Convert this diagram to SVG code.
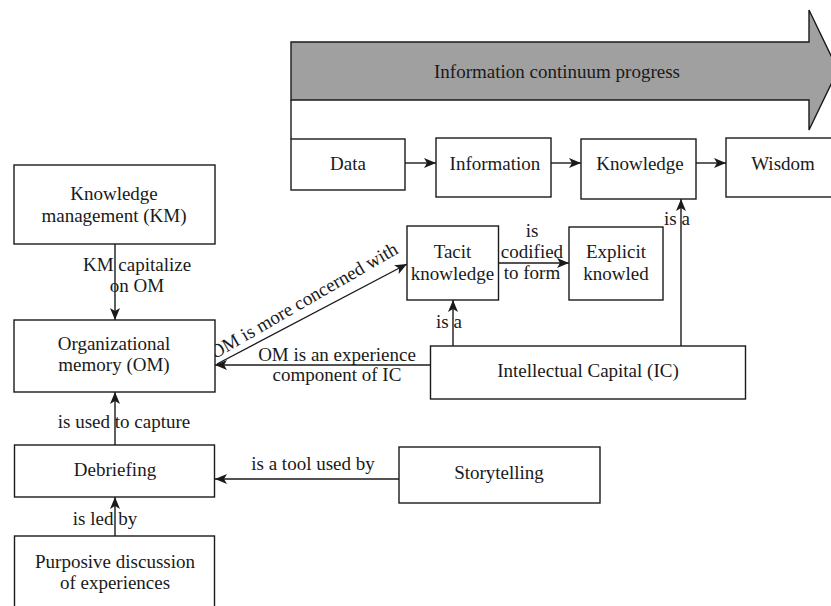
<svg xmlns="http://www.w3.org/2000/svg" width="831" height="606" viewBox="0 0 831 606">
<style>
.box{fill:#fff;stroke:#1a1a1a;stroke-width:1.4}
.t{font-family:'Liberation Serif','Times New Roman',Tinos,'DejaVu Serif',serif;font-size:19px;fill:#1a1a1a;text-anchor:middle}
.c{stroke:#1a1a1a;stroke-width:1.4;fill:none}
.a{marker-end:url(#ah)}
</style>
<defs>
<marker id="ah" viewBox="0 0 12 10" refX="12" refY="5" markerWidth="12" markerHeight="10" orient="auto" markerUnits="userSpaceOnUse">
<path d="M0,0 L12,5 L0,10 L3,5 z" fill="#1a1a1a"/>
</marker>
</defs>
<rect width="831" height="606" fill="#fff"/>
<g id="progress">
<polygon points="291,42 809,42 809,10 838,70 809,130 809,100 291,100" fill="#a0a0a0" stroke="#1a1a1a" stroke-width="1.4"/>
<text class="t" x="557" y="78">Information continuum progress</text>
</g>
<g id="connectors">
<line class="c" x1="291" y1="100" x2="291" y2="139"/>
<line class="c a" x1="405" y1="163" x2="436" y2="163"/>
<line class="c a" x1="551" y1="163" x2="581" y2="163"/>
<line class="c a" x1="696" y1="163" x2="726" y2="163"/>
<line class="c a" x1="115" y1="244" x2="115" y2="320"/>
<line class="c a" x1="217" y1="364" x2="407" y2="264"/>
<line class="c a" x1="498.5" y1="263" x2="569" y2="263"/>
<line class="c a" x1="681" y1="346" x2="681" y2="199"/>
<line class="c a" x1="453" y1="346" x2="453" y2="300"/>
<line class="c a" x1="430.5" y1="365" x2="215" y2="365"/>
<line class="c a" x1="115" y1="445" x2="115" y2="392"/>
<line class="c a" x1="399" y1="479" x2="215" y2="479"/>
<line class="c a" x1="115" y1="536" x2="115" y2="497"/>
<text class="t" x="137" y="271">KM capitalize</text>
<text class="t" x="137" y="292">on OM</text>
<text class="t" transform="translate(307,306) rotate(-30)">OM is more concerned with</text>
<text class="t" x="532" y="237">is</text>
<text class="t" x="532" y="258">codified</text>
<text class="t" x="532" y="279">to form</text>
<text class="t" x="677" y="225">is a</text>
<text class="t" x="449" y="328">is a</text>
<text class="t" x="337" y="361">OM is an experience</text>
<text class="t" x="337" y="381">component of IC</text>
<text class="t" x="124" y="428">is used to capture</text>
<text class="t" x="313" y="470">is a tool used by</text>
<text class="t" x="105" y="525">is led by</text>
</g>
<g id="data"><rect class="box" x="291" y="139" width="114" height="51"/><text class="t" x="348" y="170">Data</text></g>
<g id="information"><rect class="box" x="436" y="138" width="115" height="59"/><text class="t" x="495" y="170">Information</text></g>
<g id="knowledge"><rect class="box" x="581" y="139" width="115" height="60"/><text class="t" x="640" y="170">Knowledge</text></g>
<g id="wisdom"><rect class="box" x="726" y="138" width="112" height="59"/><text class="t" x="783" y="170">Wisdom</text></g>
<g id="km"><rect class="box" x="14" y="165" width="201" height="79"/><text class="t" x="114" y="200">Knowledge</text><text class="t" x="114" y="222">management (KM)</text></g>
<g id="om"><rect class="box" x="14" y="320" width="201" height="72"/><text class="t" x="114" y="350">Organizational</text><text class="t" x="114" y="371">memory (OM)</text></g>
<g id="tacit"><rect class="box" x="407" y="226" width="91.5" height="74"/><text class="t" x="452.5" y="258">Tacit</text><text class="t" x="452.5" y="280">knowledge</text></g>
<g id="explicit"><rect class="box" x="569" y="227" width="94" height="73"/><text class="t" x="616" y="258">Explicit</text><text class="t" x="616" y="280">knowled</text></g>
<g id="ic"><rect class="box" x="430.5" y="346" width="315" height="53"/><text class="t" x="588" y="377">Intellectual Capital (IC)</text></g>
<g id="debriefing"><rect class="box" x="14.5" y="445" width="200" height="52"/><text class="t" x="115" y="476">Debriefing</text></g>
<g id="storytelling"><rect class="box" x="399" y="447" width="201" height="56"/><text class="t" x="499" y="479">Storytelling</text></g>
<g id="purposive"><rect class="box" x="14.5" y="536" width="200" height="75"/><text class="t" x="115" y="568">Purposive discussion</text><text class="t" x="115" y="589">of experiences</text></g>
</svg>
